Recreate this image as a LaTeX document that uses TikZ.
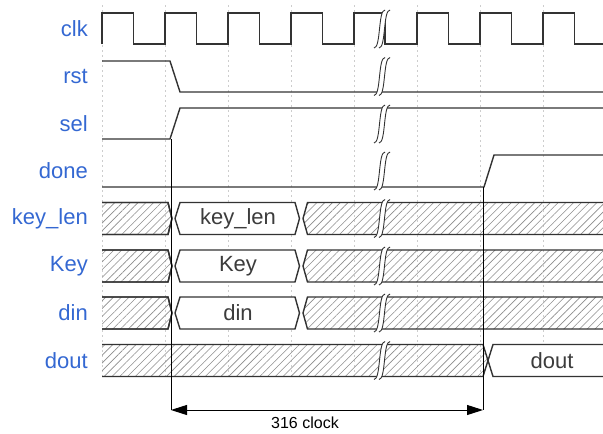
\documentclass[tikz,border=0pt]{standalone}
\usepackage{fontspec}
\setmainfont{Liberation Sans}
\usetikzlibrary{patterns.meta,arrows.meta}
\definecolor{lblblue}{RGB}{52,104,210}
\definecolor{sig}{RGB}{51,51,51}
\definecolor{gridc}{RGB}{205,205,205}
\definecolor{hatchc}{RGB}{140,140,140}
\definecolor{txtc}{RGB}{60,60,60}
\begin{document}
\begin{tikzpicture}[x=1pt,y=-1pt,
  lbl/.style={anchor=east,text=lblblue,font=\fontsize{22}{24}\selectfont,inner sep=0pt},
  boxtxt/.style={text=txtc,font=\fontsize{22}{24}\selectfont,inner sep=0pt},
  wave/.style={draw=sig,line width=1.4pt,line join=miter},
  hatched/.style={draw=sig,line width=1.4pt,pattern={Lines[angle=45,distance=5.5pt,line width=0.6pt]},pattern color=hatchc},
  valid/.style={draw=sig,line width=1.4pt,fill=white},
  gridline/.style={draw=gridc,line width=0.8pt,dash pattern=on 2pt off 3pt},
  brkfill/.style={fill=white},
  brkline/.style={draw=sig,line width=0.9pt},
  dim/.style={draw=black,line width=1pt}
]
\useasboundingbox (0,0) rectangle (603,434);
% grid
\foreach \gx in {102,165,228,291,354,417,480,543}
  \draw[gridline] (\gx,5) -- (\gx,378);
% labels
\node[lbl] (lclk) at (88,29) {clk};
\node[lbl] (lrst) at (88,76.5) {rst};
\node[lbl] (lsel) at (88,124) {sel};
\node[lbl] (ldone) at (88,171) {done};
\node[lbl] (lkey_len) at (88,218.5) {key\_len};
\node[lbl] (lKey) at (88,266) {Key};
\node[lbl] (ldin) at (88,313) {din};
\node[lbl] (ldout) at (88,360.5) {dout};
% clk
\draw[wave] (102,44) -- (102,13) -- (133.5,13) -- (133.5,44) -- (165,44) -- (165,13)
  -- (196.5,13) -- (196.5,44) -- (228,44) -- (228,13) -- (259.5,13) -- (259.5,44)
  -- (291,44) -- (291,13) -- (322.5,13) -- (322.5,44) -- (354,44) -- (354,13)
  -- (385,13) -- (385,44) -- (417,44) -- (417,13) -- (448.5,13) -- (448.5,44)
  -- (480,44) -- (480,13) -- (511.5,13) -- (511.5,44) -- (543,44) -- (543,13)
  -- (574.5,13) -- (574.5,44) -- (603,44);
% rst
\draw[wave] (102,61) -- (170,61) -- (180,92) -- (603,92);
% sel
\draw[wave] (102,139) -- (170,139) -- (180,108) -- (603,108);
% done
\draw[wave] (102,187) -- (484,187) -- (494,155) -- (603,155);
% buses
\foreach \c/\t in {218.5/key\_len,266/Key,313/din}{
  \path[hatched] (102,\c-16) -- (168,\c-16) -- (172,\c) -- (168,\c+16) -- (102,\c+16);
  \draw[sig,line width=1.4pt] (102,\c-16) -- (168,\c-16) -- (172,\c) -- (168,\c+16) -- (102,\c+16);
  \draw[valid] (175,\c) -- (180,\c-16) -- (295,\c-16) -- (299.5,\c) -- (295,\c+16) -- (180,\c+16) -- cycle;
  \node[boxtxt] at (238,\c) {\t};
  \path[hatched,draw=none] (303,\c) -- (307.5,\c-16) -- (603,\c-16) -- (603,\c+16) -- (307.5,\c+16) -- cycle;
  \draw[sig,line width=1.4pt] (603,\c-16) -- (307.5,\c-16) -- (303,\c) -- (307.5,\c+16) -- (603,\c+16);
}
\node[boxtxt] (tkey_len) at (238,218.5) {\phantom{x}};
% dout
\path[hatched,draw=none] (102,344.5) -- (483,344.5) -- (488,360.5) -- (483,376.5) -- (102,376.5) -- cycle;
\draw[sig,line width=1.4pt] (102,344.5) -- (483,344.5) -- (488,360.5) -- (483,376.5) -- (102,376.5);
\draw[valid] (603,344.5) -- (493,344.5) -- (488,360.5) -- (493,376.5) -- (603,376.5);
\node[boxtxt] (tdout) at (552,360.5) {dout};
% breaks
\foreach \c in {29,76.5,124,171,218.5,266,313,360.5}{
  \fill[white] (374,\c+19) .. controls (381,\c+19) and (378,\c-19) .. (385,\c-19)
    -- (390,\c-19) .. controls (383,\c-19) and (386,\c+19) .. (379,\c+19) -- cycle;
  \draw[brkline] (374,\c+19) .. controls (381,\c+19) and (378,\c-19) .. (385,\c-19);
  \draw[brkline] (379,\c+19) .. controls (386,\c+19) and (383,\c-19) .. (390,\c-19);
}
% dimension
\coordinate (selstart) at (171,139);
\coordinate (donestart) at (483,187);
\coordinate (dimL) at (171,410);
\coordinate (dimR) at (483,410);
\draw[dim] (selstart) -- (dimL);
\draw[dim] (donestart) -- (dimR);
\draw[dim,{Triangle[length=16pt,width=10pt]}-{Triangle[length=16pt,width=10pt]}] (dimL) -- (dimR);
\node[inner sep=0pt,font=\fontsize{16}{18}\selectfont] (dimlbl) at (305,423) {316 clock};
\end{tikzpicture}
\end{document}
